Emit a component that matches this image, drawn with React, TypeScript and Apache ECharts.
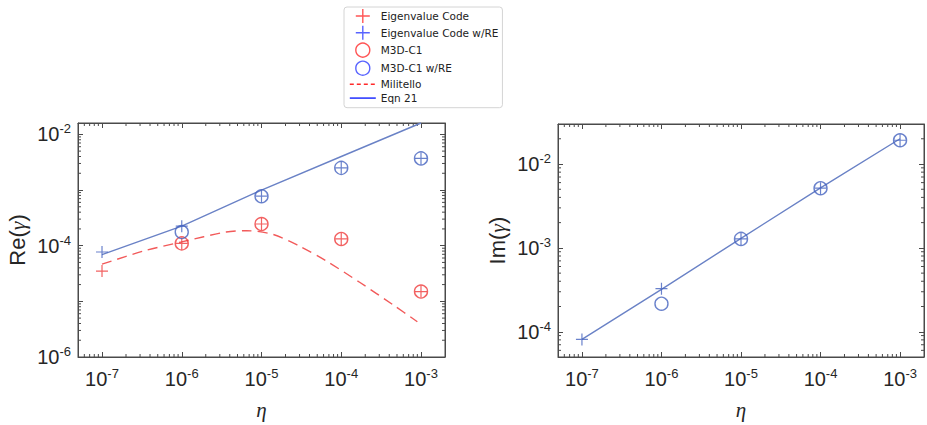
import React, { useEffect, useRef } from 'react';
import * as echarts from 'echarts';

// ---- data ----
const etaValues = [1e-7, 1e-6, 1e-5, 1e-4, 1e-3];

// left panel: Re(gamma)
const reEigenvalue = [3.5e-5, 1.1e-4, 2.45e-4, 1.32e-4, 1.5e-5];
const reM3D = [null, 1.1e-4, 2.45e-4, 1.32e-4, 1.5e-5];
const reEigenvalueRE = [7.7e-5, 2.24e-4, 7.75e-4, 2.5e-3, 3.7e-3];
const reM3DRE = [null, 1.76e-4, 7.75e-4, 2.5e-3, 3.7e-3];
const reEqn21 = [6.9e-5, 2.25e-4, 1.0e-3, 4.0e-3, 1.6e-2];
const militelloEta = [1e-7, 3.3e-7, 1e-6, 3.6e-6, 6.5e-6, 1.4e-5, 3e-5, 6.5e-5, 1.7e-4, 4.5e-4, 9e-4];
const militelloRe = [4.65e-5, 8.0e-5, 1.17e-4, 1.76e-4, 1.86e-4, 1.59e-4, 9.8e-5, 5.3e-5, 2.2e-5, 8.6e-6, 4.3e-6];

// right panel: Im(gamma)
const imEigenvalueRE = [8.1e-5, 3.26e-4, 1.28e-3, 5.15e-3, 1.92e-2];
const imM3DRE = [null, 2.16e-4, 1.28e-3, 5.15e-3, 1.92e-2];
const imEqn21 = [8.1e-5, 3.2e-4, 1.3e-3, 5.2e-3, 2.0e-2];

// axis ranges
const xRange = [5e-8, 2e-3];
const yRangeRe = [1e-6, 1.6e-2];
const yRangeIm = [5e-5, 3e-2];
const minorMultipliers = [2, 3, 4, 5, 6, 7, 8, 9];

const legendNames = ['Eigenvalue Code', 'Eigenvalue Code w/RE', 'M3D-C1', 'M3D-C1 w/RE', 'Militello', 'Eqn 21'];

// ---- styles ----
const RED = '#ef3b3b';
const RED_DASH = '#f25a5a';
const BLUE = '#4563bf';
const BLUE_LINE = '#6a82c6';
const LEG_RED = '#ff2a2a';
const LEG_BLUE = '#2e3cff';
const FRAME = '#4a4a4a';
const PLUS = 'path://M5.4,0L6.6,0L6.6,5.4L12,5.4L12,6.6L6.6,6.6L6.6,12L5.4,12L5.4,6.6L0,6.6L0,5.4L5.4,5.4Z';
const HIDDEN = { color: 'rgba(0,0,0,0)', borderWidth: 0, borderColor: 'rgba(0,0,0,0)' };

const pairs = (xs: number[], ys: (number | null)[]) =>
  xs.map((x, i) => (ys[i] == null ? null : [x, ys[i]])).filter((p) => p !== null);

const makeFmt = (step: number) => (v: number) => {
  const l = Math.log10(v);
  const r = Math.round(l);
  if (Math.abs(l - r) > 1e-6) return '';
  if (r % step !== 0) return '';
  return `{b|10}{s|${r}}`;
};

const labelRich = {
  b: { fontSize: 20, fontFamily: 'Liberation Sans', color: '#262626', lineHeight: 24 },
  s: { fontSize: 13, fontFamily: 'Liberation Sans', color: '#262626', verticalAlign: 'top', lineHeight: 12 },
};

function xAxesFor(grid: number) {
  const base = {
    type: 'log',
    logBase: 10,
    gridIndex: grid,
    min: xRange[0],
    max: xRange[1],
    splitLine: { show: false },
    axisLine: { show: true, lineStyle: { color: FRAME, width: 1 } },
    axisTick: { show: true, inside: true, length: 5, lineStyle: { color: FRAME } },
  };
  return [
    {
      ...base,
      position: 'bottom',
      axisLabel: { show: true, formatter: makeFmt(1), rich: labelRich, margin: 10 },
      name: '{e|η}',
      nameLocation: 'middle',
      nameGap: 42,
      nameTextStyle: { rich: { e: { fontSize: 21, fontFamily: 'Liberation Serif', fontStyle: 'italic', color: '#262626' } } },
    },
    { ...base, position: 'top', axisLabel: { show: false } },
  ];
}

function yAxesFor(grid: number, range: number[], label: string, step: number) {
  const base = {
    type: 'log',
    logBase: 10,
    gridIndex: grid,
    min: range[0],
    max: range[1],
    splitLine: { show: false },
    axisLine: { show: true, lineStyle: { color: FRAME, width: 1 } },
    axisTick: { show: true, inside: true, length: 5, lineStyle: { color: FRAME } },
  };
  return [
    {
      ...base,
      position: 'left',
      axisLabel: { show: true, formatter: makeFmt(step), rich: labelRich, margin: 7 },
      name: `{n|${label}(}{g|γ}{n|)}`,
      nameLocation: 'middle',
      nameGap: 50,
      nameRotate: 90,
      nameTextStyle: {
        rich: {
          n: { fontSize: 22, fontFamily: 'Liberation Sans', color: '#262626' },
          g: { fontSize: 22, fontFamily: 'Liberation Serif', fontStyle: 'italic', color: '#262626' },
        },
      },
    },
    { ...base, position: 'right', axisLabel: { show: false } },
  ];
}

function minorTicks(xAxisIndex: number, yAxisIndex: number, yRange: number[]) {
  return {
    type: 'custom',
    name: '',
    xAxisIndex,
    yAxisIndex,
    silent: true,
    clip: false,
    z: 1,
    data: [[xRange[0], yRange[0]]],
    renderItem: (params: any, api: any) => {
      const children: any[] = [];
      const len = 3;
      const style = { stroke: FRAME, lineWidth: 1 };
      for (let d = Math.floor(Math.log10(xRange[0])); d <= Math.ceil(Math.log10(xRange[1])); d++) {
        for (const m of minorMultipliers) {
          const v = m * Math.pow(10, d);
          if (v <= xRange[0] || v >= xRange[1]) continue;
          const b = api.coord([v, yRange[0]]);
          const t = api.coord([v, yRange[1]]);
          children.push({ type: 'line', shape: { x1: b[0], y1: b[1], x2: b[0], y2: b[1] - len }, style });
          children.push({ type: 'line', shape: { x1: t[0], y1: t[1], x2: t[0], y2: t[1] + len }, style });
        }
      }
      for (let d = Math.floor(Math.log10(yRange[0])); d <= Math.ceil(Math.log10(yRange[1])); d++) {
        for (const m of minorMultipliers) {
          const v = m * Math.pow(10, d);
          if (v <= yRange[0] || v >= yRange[1]) continue;
          const l = api.coord([xRange[0], v]);
          const r = api.coord([xRange[1], v]);
          children.push({ type: 'line', shape: { x1: l[0], y1: l[1], x2: l[0] + len, y2: l[1] }, style });
          children.push({ type: 'line', shape: { x1: r[0], y1: r[1], x2: r[0] - len, y2: r[1] }, style });
        }
      }
      return { type: 'group', children };
    },
  };
}

function plusSeries(name: string, xi: number, yi: number, ys: (number | null)[], color: string) {
  return {
    type: 'scatter',
    name,
    xAxisIndex: xi,
    yAxisIndex: yi,
    symbol: PLUS,
    symbolSize: 12,
    itemStyle: { color },
    z: 4,
    data: pairs(etaValues, ys),
  };
}

function circleSeries(name: string, xi: number, yi: number, ys: (number | null)[], color: string) {
  return {
    type: 'scatter',
    name,
    xAxisIndex: xi,
    yAxisIndex: yi,
    symbol: 'circle',
    symbolSize: 13,
    itemStyle: { color: 'rgba(0,0,0,0)', borderColor: color, borderWidth: 1.4 },
    z: 4,
    data: pairs(etaValues, ys),
  };
}

export default function App() {
  const ref = useRef<HTMLDivElement>(null);
  useEffect(() => {
    if (!ref.current) return;
    const chart = echarts.init(ref.current, null, { renderer: 'svg' });
    const option: any = {
      animation: false,
      backgroundColor: '#ffffff',
      grid: [
        { left: 78, top: 123, width: 367, height: 238, show: true, borderColor: FRAME, borderWidth: 1, backgroundColor: '#fff' },
        { left: 558, top: 124, width: 367, height: 238, show: true, borderColor: FRAME, borderWidth: 1, backgroundColor: '#fff' },
      ],
      xAxis: [...xAxesFor(0), ...xAxesFor(1)],
      yAxis: [...yAxesFor(0, yRangeRe, 'Re', 2), ...yAxesFor(1, yRangeIm, 'Im', 1)],
      legend: {
        orient: 'vertical',
        left: 344,
        top: 7,
        padding: [2, 4, 4, 5],
        itemWidth: 26,
        itemHeight: 14,
        itemGap: 2.7,
        backgroundColor: '#fff',
        borderColor: '#d4d4d4',
        borderWidth: 1,
        borderRadius: 3,
        textStyle: { fontSize: 10.5, fontFamily: 'DejaVu Sans', color: '#222' },
        data: [
          { name: legendNames[0], icon: PLUS, itemStyle: { color: LEG_RED } },
          { name: legendNames[1], icon: PLUS, itemStyle: { color: LEG_BLUE } },
          { name: legendNames[2], icon: 'circle', itemStyle: { color: 'rgba(0,0,0,0)', borderColor: LEG_RED, borderWidth: 1.4 } },
          { name: legendNames[3], icon: 'circle', itemStyle: { color: 'rgba(0,0,0,0)', borderColor: LEG_BLUE, borderWidth: 1.4 } },
          { name: legendNames[4], itemStyle: HIDDEN, lineStyle: { color: LEG_RED, type: [4, 3], width: 1.6 } },
          { name: legendNames[5], itemStyle: HIDDEN, lineStyle: { color: LEG_BLUE, width: 1.6 } },
        ],
      },
      series: [
        minorTicks(0, 0, yRangeRe),
        minorTicks(2, 2, yRangeIm),
        {
          type: 'line',
          name: legendNames[5],
          xAxisIndex: 0,
          yAxisIndex: 0,
          symbol: 'none',
          lineStyle: { color: BLUE_LINE, width: 1.4 },
          itemStyle: { color: BLUE_LINE },
          z: 3,
          data: pairs(etaValues, reEqn21),
        },
        {
          type: 'line',
          name: legendNames[4],
          xAxisIndex: 0,
          yAxisIndex: 0,
          symbol: 'none',
          smooth: 0.3,
          lineStyle: { color: RED_DASH, width: 1.4, type: [10, 6] },
          itemStyle: { color: RED_DASH },
          z: 3,
          data: pairs(militelloEta, militelloRe),
        },
        plusSeries(legendNames[0], 0, 0, reEigenvalue, RED),
        circleSeries(legendNames[2], 0, 0, reM3D, RED),
        plusSeries(legendNames[1], 0, 0, reEigenvalueRE, BLUE),
        circleSeries(legendNames[3], 0, 0, reM3DRE, BLUE),
        {
          type: 'line',
          name: legendNames[5],
          xAxisIndex: 2,
          yAxisIndex: 2,
          symbol: 'none',
          lineStyle: { color: BLUE_LINE, width: 1.4 },
          itemStyle: { color: BLUE_LINE },
          z: 3,
          data: pairs(etaValues, imEqn21),
        },
        plusSeries(legendNames[1], 2, 2, imEigenvalueRE, BLUE),
        circleSeries(legendNames[3], 2, 2, imM3DRE, BLUE),
      ],
    };
    chart.setOption(option);
    return () => chart.dispose();
  }, []);
  return (
    <div
      ref={ref}
      style={{ position: 'fixed', left: 0, top: 0, width: 927, height: 425, background: '#fff' }}
    />
  );
}
